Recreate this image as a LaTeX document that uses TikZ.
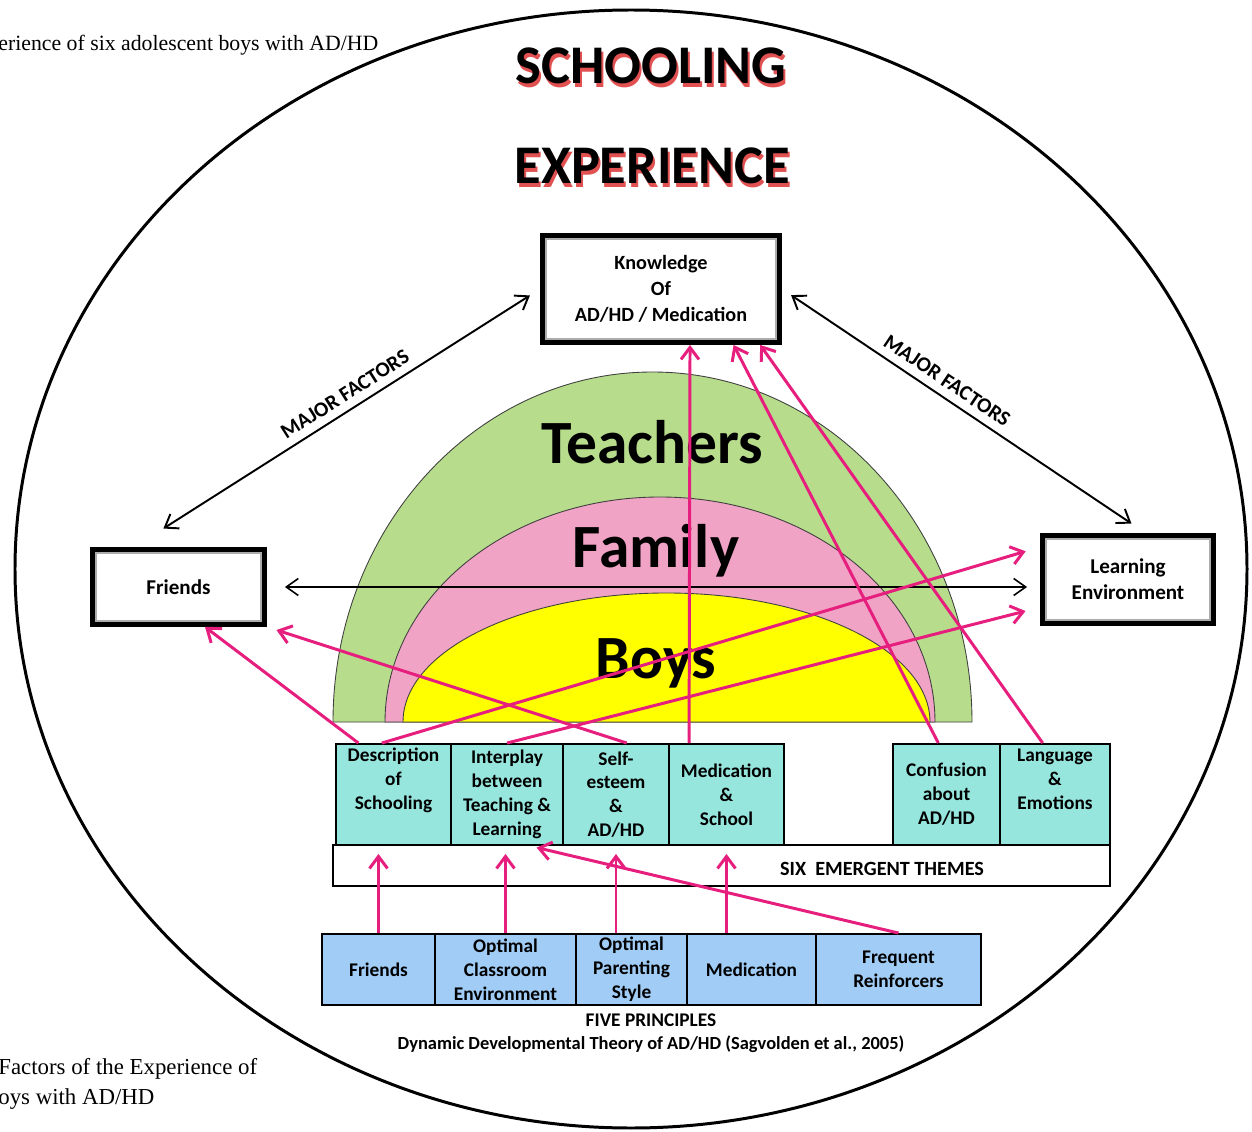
\documentclass[tikz,border=0pt]{standalone}
\usepackage{fontspec}
\setmainfont{Carlito}
\newfontfamily\capfont{Liberation Serif}
\usetikzlibrary{arrows.meta,calc}

\definecolor{arrowpink}{RGB}{230,30,125}
\definecolor{themecyan}{RGB}{150,230,222}
\definecolor{principleblue}{RGB}{160,204,246}
\definecolor{teachgreen}{RGB}{183,221,140}
\definecolor{familypink}{RGB}{240,163,196}
\definecolor{boysyellow}{RGB}{255,255,0}
\definecolor{shadowred}{RGB}{220,50,50}

\tikzset{
  titletext/.style={inner sep=0pt, font=\bfseries\fontsize{31}{36}\selectfont},
  dometext/.style={inner sep=0pt, font=\bfseries\fontsize{35}{40}\selectfont},
  halfdome/.style={draw=black!75, line width=0.5pt},
  bigbox/.style={draw, line width=2.8pt, fill=white, inner sep=0pt, align=center,
    font=\bfseries\fontsize{11.5}{15}\selectfont},
  innerframe/.style={draw=gray!65, line width=1.1pt},
  theme/.style={draw, line width=1.1pt, fill=themecyan, inner sep=0pt, align=center,
    minimum height=2.02cm, font=\bfseries\fontsize{11}{13.6}\selectfont},
  principle/.style={draw, line width=1.1pt, fill=principleblue, inner sep=0pt, align=center,
    minimum height=1.42cm, font=\bfseries\fontsize{11}{13.6}\selectfont},
  boxlabel/.style={inner sep=0pt, font=\bfseries\fontsize{11}{13}\selectfont},
  majorlabel/.style={inner sep=4.5pt, font=\bfseries\fontsize{12}{14}\selectfont},
  major/.style={line width=1.1pt, {Straight Barb[length=2.4mm,width=3.4mm]}-{Straight Barb[length=2.4mm,width=3.4mm]}},
  pinkline/.style={draw=arrowpink, line width=1.7pt, -{Straight Barb[length=2.4mm,width=3.6mm]}},
}

\begin{document}
\begin{tikzpicture}[x=0.02cm,y=-0.02cm]
\useasboundingbox (0,0) rectangle (1252,1132);

%Shape: Ellipse
\draw[line width=1.7pt] (631,569) ellipse [x radius=616, y radius=559];

% Text Node
\node[anchor=base west, inner sep=0pt, font=\capfont\fontsize{12.4}{15}\selectfont] (capa) at (-2,51) {erience of six adolescent boys with AD/HD};
\node[anchor=base west, inner sep=0pt, font=\capfont\fontsize{13}{17}\selectfont] (capb) at (-2,1074) {Factors of the Experience of};
\node[anchor=base west, inner sep=0pt, font=\capfont\fontsize{13}{17}\selectfont] (capc) at (-2,1104) {oys with AD/HD};

% Title with red shadow
\node[titletext, text=shadowred!85] (schoolsh) at (653,69.5) {SCHOOLING};
\node[titletext] (school) at (651,66) {SCHOOLING};
\node[titletext, text=shadowred!85] (expersh) at (654,169.5) {EXPERIENCE};
\node[titletext] (exper) at (652,166) {EXPERIENCE};

%Shape: Half ellipses
\draw[halfdome, fill=teachgreen] (333,722) arc[start angle=180, end angle=360, x radius=319.5, y radius=350] -- cycle;
\draw[halfdome, fill=familypink] (385,722) arc[start angle=180, end angle=360, x radius=275, y radius=225] -- cycle;
\draw[halfdome, fill=boysyellow] (403,722) arc[start angle=180, end angle=360, x radius=263.5, y radius=129] -- cycle;

\node[dometext, anchor=base] (teach) at (652,463) {Teachers};
\node[dometext, anchor=base] (family) at (656,567) {Family};
\node[dometext, anchor=base] (boys) at (656,678) {Boys};

% Major factor boxes
\node[bigbox, minimum width=4.74cm, minimum height=2.14cm] (know) at (661,289) {Knowledge\\Of\\AD/HD / Medication};
\node[bigbox, minimum width=3.44cm, minimum height=1.5cm, font=\bfseries\fontsize{12}{15}\selectfont] (friends) at (178.5,587) {Friends};
\node[bigbox, minimum width=3.42cm, minimum height=1.76cm, font=\bfseries\fontsize{12}{15}\selectfont] (learn) at (1128,579.5) {Learning\\Environment};
\foreach \b in {know,friends,learn}
  \draw[innerframe] ([shift={(3.3pt,-3.3pt)}]\b.north west) rectangle ([shift={(-3.3pt,3.3pt)}]\b.south east);

% Six emergent themes
\node[draw, line width=1.1pt, fill=white, minimum width=15.54cm, minimum height=0.82cm] (six) at (721.5,865.5) {};
\node[boxlabel, font=\bfseries\fontsize{11.5}{13}\selectfont] (sixlabel) at (882,869) {SIX~ EMERGENT THEMES};
\node[theme, minimum width=2.3cm] (desc) at (393.5,794.5) {Description\\of\\Schooling\\\strut};
\node[theme, minimum width=2.24cm] (inter) at (507,794.5) {Interplay\\between\\Teaching \&\\Learning};
\node[theme, minimum width=2.12cm] (selfest) at (616,794.5) {Self-\\esteem\\\&\\AD/HD};
\node[theme, minimum width=2.3cm] (medsch) at (726.5,794.5) {Medication\\\&\\School};
\node[theme, minimum width=2.14cm] (confus) at (946.5,794.5) {Confusion\\about\\AD/HD};
\node[theme, minimum width=2.2cm] (lang) at (1055,794.5) {Language\\\&\\Emotions\\\strut};

% Five principles
\node[principle, minimum width=2.26cm] (pfriends) at (378.5,969.5) {Friends};
\node[principle, minimum width=2.82cm] (pclass) at (505.5,969.5) {Optimal\\Classroom\\Environment};
\node[principle, minimum width=2.22cm] (pparent) at (631.5,969.5) {Optimal\\Parenting\\Style};
\node[principle, minimum width=2.58cm] (pmed) at (751.5,969.5) {Medication};
\node[principle, minimum width=3.3cm] (preinf) at (898.5,969.5) {Frequent\\Reinforcers};
\node[boxlabel] (five) at (651,1020) {FIVE PRINCIPLES};
\node[boxlabel, font=\bfseries\fontsize{10.5}{13}\selectfont] (ddt) at (651,1044) {Dynamic Developmental Theory of AD/HD (Sagvolden et al., 2005)};

% Black arrows
\draw[major, shorten <=0.24cm, shorten >=0.69cm] (know.west) -- node[sloped, above, pos=0.46, majorlabel] (majl) {MAJOR FACTORS} ($(friends.north west)!0.5!(friends.north)$);
\draw[major, shorten <=0.22cm, shorten >=0.34cm] (know.east) -- node[sloped, above, pos=0.43, majorlabel] (majr) {MAJOR FACTORS} ($(learn.north)!0.2!(learn.north east)$);
\draw[major, line width=0.9pt, shorten <=0.36cm, shorten >=0.26cm] (friends.east) -- (friends.east -| learn.west);

% Pink arrows
\draw[pinkline, shorten >=0.16cm] (pfriends.north) -- (pfriends.north |- desc.south);
\draw[pinkline, shorten >=0.16cm] (pclass.north) -- (pclass.north |- inter.south);
\draw[pinkline, shorten >=0.16cm] (selfest.south |- pparent.north) -- (selfest.south);
\draw[pinkline, shorten >=0.16cm] (medsch.south |- pmed.north) -- (medsch.south);
\draw[pinkline, shorten >=0.14cm] (preinf.north) -- ($(inter.south)!0.4!(inter.south east)$);
\draw[pinkline] ($(desc.north west)!0.2!(desc.north east)$) -- ($(friends.south)!0.3!(friends.south east)$);
\draw[pinkline, shorten >=0.3cm] ($(desc.north west)!0.4!(desc.north east)$) -- ($(learn.north west)!0.15!(learn.south west)$);
\draw[pinkline, shorten >=0.3cm] (inter.north) -- ($(learn.north west)!0.8!(learn.south west)$);
\draw[pinkline, shorten >=0.2cm] ($(selfest.north)!0.2!(selfest.north east)$) -- (friends.south east);
\draw[pinkline] ($(medsch.north west)!0.18!(medsch.north east)$) -- ($(know.south)!0.24!(know.south east)$);
\draw[pinkline] ($(confus.north)!0.15!(confus.north west)$) -- ($(know.south)!0.6!(know.south east)$);
\draw[pinkline] ($(lang.north)!0.22!(lang.north west)$) -- ($(know.south)!0.82!(know.south east)$);

\end{tikzpicture}
\end{document}
